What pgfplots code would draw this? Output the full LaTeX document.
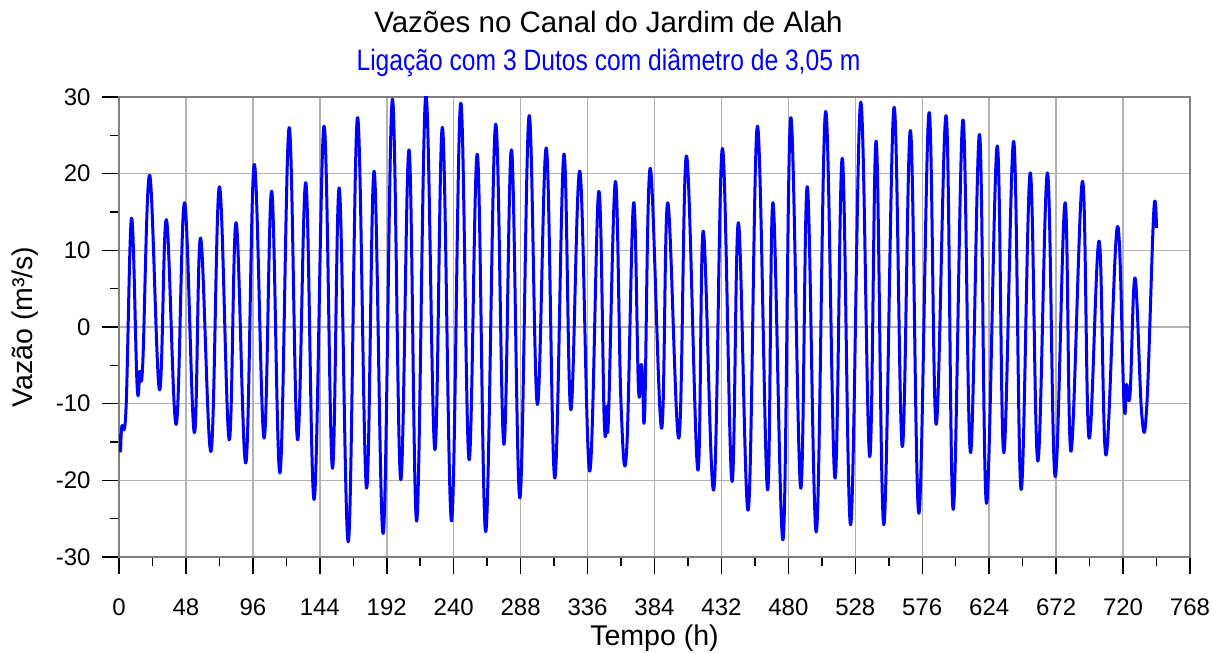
\documentclass[border=0pt]{standalone}
\usepackage{fontspec}
\setmainfont{Liberation Sans}
\usepackage{graphicx}
\usepackage{pgfplots}
\pgfplotsset{compat=1.18}
\definecolor{spine}{RGB}{128,128,128}
\definecolor{gridc}{RGB}{178,178,178}
\definecolor{lineblue}{RGB}{0,0,255}
\pgfplotstableread{
t v
0 -14.0
1 -16.2
2 -13.0
5 -10.8
9 14.2
13 -7.7
15 -5.8
17 -4.9
22 19.8
29 -8.2
34 14.0
41 -12.7
47 16.2
54 -13.8
58.5 11.6
66 -16.2
72 18.3
79 -14.7
84 13.6
91 -17.7
97 21.2
104 -14.5
109.5 17.7
115.5 -19.0
122 26.0
128 -14.7
134 18.8
140 -22.5
147 26.2
153 -18.4
158 18.1
164.5 -28.0
171 27.3
177.5 -21.0
183 20.3
189.5 -26.9
196 29.7
202 -19.9
208 23.1
213.5 -25.3
220 30.2
226.5 -16.0
232 26.0
238.5 -25.3
245 29.2
251 -17.3
257 22.5
263 -26.7
270 26.4
276 -15.3
281.5 23.1
287.5 -22.3
294 27.5
300 -10.1
306.5 23.3
312.5 -19.7
319 22.5
324 -10.8
330.5 20.3
337.5 -18.8
344 17.7
348 -12.5
350 -10.3
351 -11.8
356 19.0
360 -10.1
364 -16.2
369 16.2
372.5 -8.0
374.5 -4.9
375.5 -6.7
377 -11.0
381 20.7
389 -13.2
393.5 16.2
401.5 -14.5
407 22.3
415 -18.6
419 12.5
426.5 -21.2
432.7 23.3
439.5 -20.1
444.2 13.6
451.3 -23.8
457.8 26.2
465 -21.2
469 16.2
476.2 -27.7
481.7 27.3
488.8 -21.0
493.6 18.3
500.1 -26.7
506.7 28.1
513.4 -19.7
518.7 22.0
524.7 -25.8
531.8 29.3
538.3 -16.9
543 24.2
548.5 -25.8
555.7 28.6
561.7 -15.6
567.6 25.6
573.6 -24.3
580.8 27.9
586 -12.7
593.2 27.5
598.2 -23.8
605.1 27.0
610.6 -16.4
617.1 25.1
622.1 -23.0
629.7 23.6
634.5 -16.4
641.6 24.2
646.9 -21.2
653.4 20.1
658.9 -17.5
665.8 20.1
671.3 -19.5
678.4 16.2
682.7 -16.2
690.9 19.0
695.6 -14.5
702.8 11.2
707.8 -16.7
715.9 13.1
720.7 -10.1
722.6 -7.5
725 -8.8
728.6 6.4
733.4 -11.4
737 -10.3
742 15.0
744 12.9
}\flowdata
\begin{document}
\begin{tikzpicture}
\begin{axis}[name=ax, at={(0,0)}, anchor=south west,
  scale only axis, width=1071pt, height=460pt,
  xmin=0, xmax=768, ymin=-30, ymax=30,
  xtick={0,48,...,768}, ytick={-30,-20,...,30},
  minor x tick num=1, minor y tick num=1,
  xtick pos=left, ytick pos=left,
  tick align=outside, major tick length=17pt, minor tick length=9pt,
  xmajorgrids, ymajorgrids,
  grid style={gridc, line width=1.5pt},
  axis line style={spine, line width=2pt},
  major tick style={black, line width=1.5pt},
  minor tick style={black, line width=1.5pt},
  tick label style={font=\fontsize{24}{28}\selectfont},
  xticklabel style={yshift=-21pt},
  yticklabel style={xshift=-8pt},
  /pgf/number format/assume math mode=true,
  xlabel={Tempo (h)}, ylabel={Vazão (m³/s)},
  label style={font=\fontsize{28.5}{34}\selectfont},
  xlabel style={at={(axis description cs:0.5,-0.1913)}, anchor=base},
  ylabel style={at={(axis description cs:-0.0803,0.5)}, anchor=base},
]
\addplot[lineblue, line width=3pt, line join=round, smooth, tension=0.65] table[x=t, y=v] {\flowdata};
\end{axis}
\node[anchor=base, font=\fontsize{29.5}{35}\selectfont] at ([shift={(489.5pt,64pt)}]ax.north west) {Vazões no Canal do Jardim de Alah};
\node[anchor=base, font=\fontsize{29.5}{35}\selectfont, text=lineblue] at ([shift={(489.5pt,26pt)}]ax.north west) {\scalebox{0.835}[1]{Ligação com 3 Dutos com diâmetro de 3,05 m}};
\pgfresetboundingbox
\path[use as bounding box] ([shift={(-119pt,-95pt)}]ax.south west) rectangle ([shift={(24pt,97pt)}]ax.north east);
\end{tikzpicture}
\end{document}
